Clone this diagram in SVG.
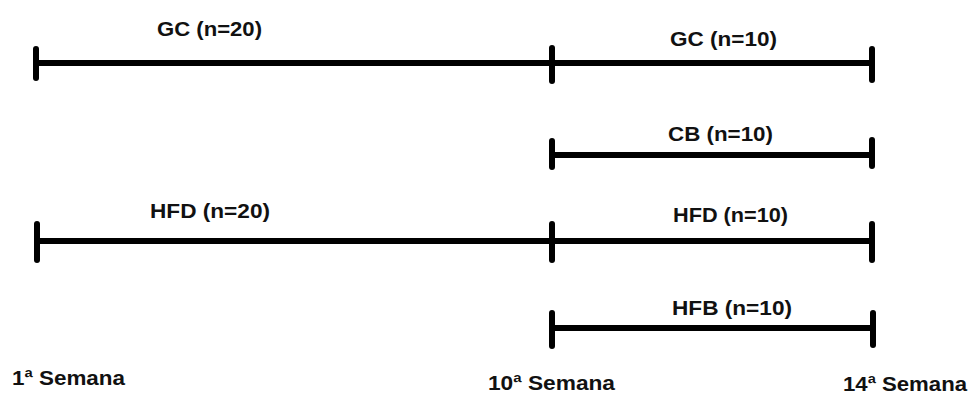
<svg xmlns="http://www.w3.org/2000/svg" width="974" height="395" viewBox="0 0 974 395">
  <style>
    .bar { stroke: #000; stroke-width: 6; fill: none; }
    .tick { stroke: #000; stroke-width: 6; stroke-linecap: round; fill: none; }
    .lbl { font-family: "Liberation Sans", Arial, sans-serif; font-weight: bold; font-size: 21px; fill: #111; }
  </style>
  <rect width="974" height="395" fill="#fff"/>

  <g id="connectors">
    <!-- GC timeline -->
    <line class="bar" x1="36" y1="63" x2="872" y2="63"/>
    <line class="tick" x1="36" y1="49" x2="36" y2="78"/>
    <line class="tick" x1="552" y1="48" x2="552" y2="81"/>
    <line class="tick" x1="872" y1="49" x2="872" y2="80"/>
    <!-- CB timeline -->
    <line class="bar" x1="552" y1="155" x2="872" y2="155"/>
    <line class="tick" x1="552" y1="141" x2="552" y2="167"/>
    <line class="tick" x1="872" y1="140" x2="872" y2="166"/>
    <!-- HFD timeline -->
    <line class="bar" x1="36" y1="241" x2="872" y2="241"/>
    <line class="tick" x1="37" y1="224" x2="37" y2="260"/>
    <line class="tick" x1="552" y1="224" x2="552" y2="260"/>
    <line class="tick" x1="872" y1="224" x2="872" y2="260"/>
    <!-- HFB timeline -->
    <line class="bar" x1="552" y1="328" x2="872" y2="328"/>
    <line class="tick" x1="552" y1="313" x2="552" y2="346"/>
    <line class="tick" x1="873" y1="313" x2="873" y2="345"/>
  </g>

  <g id="gc20"><text class="lbl" x="157" y="36" textLength="105" lengthAdjust="spacingAndGlyphs">GC (n=20)</text></g>
  <g id="gc10"><text class="lbl" x="670" y="46" textLength="107" lengthAdjust="spacingAndGlyphs">GC (n=10)</text></g>
  <g id="cb10"><text class="lbl" x="668" y="141" textLength="105" lengthAdjust="spacingAndGlyphs">CB (n=10)</text></g>
  <g id="hfd20"><text class="lbl" x="150" y="218" textLength="120" lengthAdjust="spacingAndGlyphs">HFD (n=20)</text></g>
  <g id="hfd10"><text class="lbl" x="673" y="222" textLength="115" lengthAdjust="spacingAndGlyphs">HFD (n=10)</text></g>
  <g id="hfb10"><text class="lbl" x="672" y="315" textLength="120" lengthAdjust="spacingAndGlyphs">HFB (n=10)</text></g>

  <g id="weeks">
    <text class="lbl" x="12" y="385" textLength="113" lengthAdjust="spacingAndGlyphs">1ª Semana</text>
    <text class="lbl" x="488" y="390" textLength="127" lengthAdjust="spacingAndGlyphs">10ª Semana</text>
    <text class="lbl" x="843" y="391" textLength="124" lengthAdjust="spacingAndGlyphs">14ª Semana</text>
  </g>
</svg>
